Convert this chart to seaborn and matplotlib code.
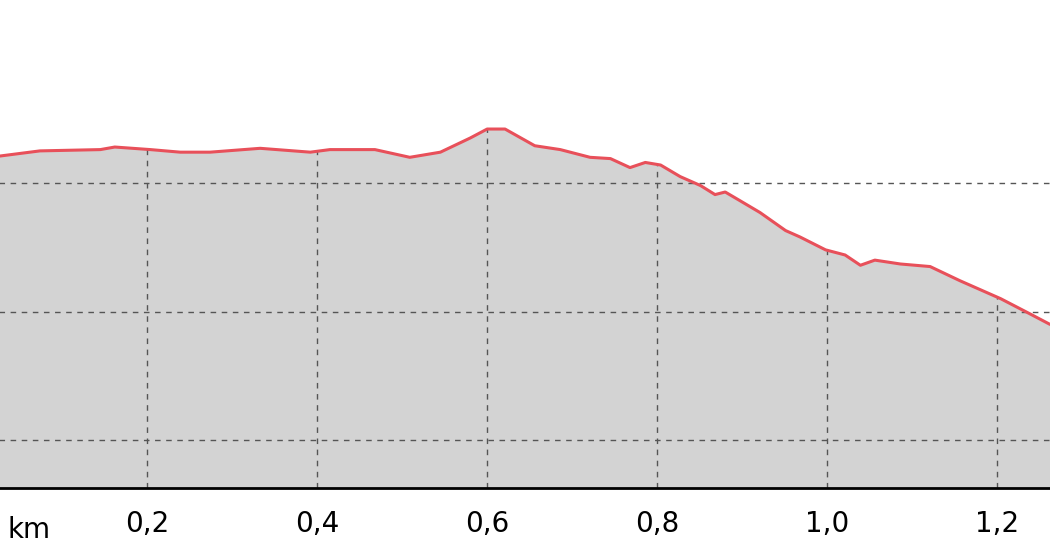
import matplotlib
matplotlib.use("Agg")
import matplotlib.pyplot as plt
import seaborn as sns
import numpy as np
import pandas as pd

# elevation profile
distance_km = [0.027, 0.074, 0.145, 0.162, 0.204, 0.239, 0.274, 0.333, 0.392, 0.415,
               0.468, 0.509, 0.545, 0.580, 0.600, 0.621, 0.656, 0.686, 0.721, 0.745,
               0.768, 0.786, 0.804, 0.827, 0.851, 0.868, 0.880, 0.898, 0.921, 0.951,
               0.968, 0.998, 1.021, 1.039, 1.056, 1.086, 1.121, 1.156, 1.180, 1.204,
               1.239, 1.262]
elevation_m = [42.1, 42.5, 42.6, 42.8, 42.6, 42.4, 42.4, 42.7, 42.4, 42.6,
               42.6, 42.0, 42.4, 43.5, 44.2, 44.2, 42.9, 42.6, 42.0, 41.9,
               41.2, 41.6, 41.4, 40.5, 39.8, 39.1, 39.3, 38.6, 37.7, 36.3,
               35.8, 34.8, 34.4, 33.6, 34.0, 33.7, 33.5, 32.4, 31.7, 31.0,
               29.8, 29.0]
x_ticks = [0.2, 0.4, 0.6, 0.8, 1.0, 1.2]
y_grid = [20, 30, 40]

df = pd.DataFrame({"km": distance_km, "elev": elevation_m})

sns.set_style("white")
plt.rcParams['font.family'] = ['DejaVu Sans']

fig = plt.figure(figsize=(10.5, 5.6), dpi=100)
ax = fig.add_axes([0, 1 - 488 / 560, 1, 488 / 560])
ymin, ymax = 16.27, 54.24

ax.fill_between(df["km"], df["elev"], ymin, color="#d3d3d3", zorder=1)

# vertical grid only under the profile, horizontal grid full width
grid_style = dict(linestyles=(0, (4, 4)), colors="#555555", linewidth=1, zorder=2)
ax.vlines(x_ticks, ymin, np.interp(x_ticks, df["km"], df["elev"]), **grid_style)
ax.hlines(y_grid, 0, 2, **grid_style)

sns.lineplot(data=df, x="km", y="elev", ax=ax, color="#e8505a", linewidth=2.2, zorder=3)

ax.set_xlim(0.027, 1.262)
ax.set_ylim(ymin, ymax)
ax.set_xticks(x_ticks)
ax.set_xticklabels([f"{t:.1f}".replace(".", ",") for t in x_ticks], fontsize=20, color="black")
ax.set_yticks([])
ax.tick_params(axis="x", length=0, pad=16)
ax.grid(False)
ax.set_xlabel("")
ax.set_ylabel("")
for s in ["top", "left", "right"]:
    ax.spines[s].set_visible(False)
ax.spines["bottom"].set_linewidth(2)
ax.spines["bottom"].set_color("black")
ax.text(8 / 1050, 30 / 560, "km", transform=fig.transFigure, fontsize=20,
        va="center", ha="left", color="black")

plt.savefig("out.png", dpi=100)
plt.close()
